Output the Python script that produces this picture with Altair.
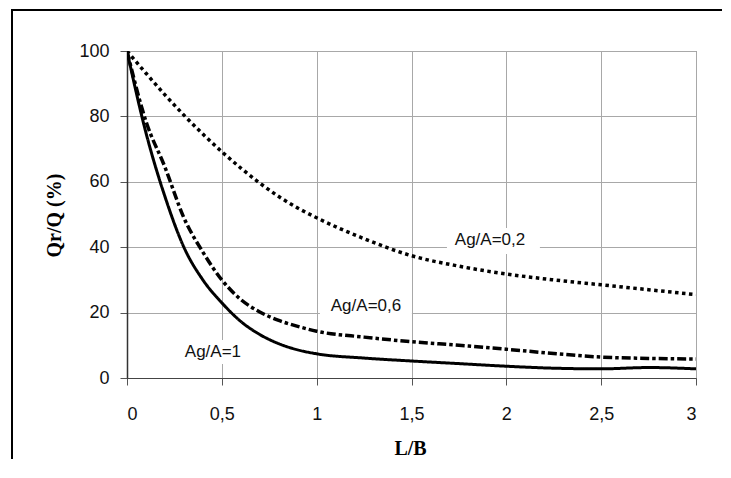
import altair as alt
import pandas as pd

# ---- data ----
x_vals = [0, 0.1, 0.2, 0.3, 0.4, 0.5, 0.6, 0.7, 0.8, 0.9, 1.0, 1.25, 1.5, 1.75, 2.0, 2.25, 2.5, 2.75, 3.0]
y_ag02 = [100, 93.2, 86.6, 80.4, 74.6, 69.2, 64.2, 59.6, 55.5, 52, 49, 42.6, 37.4, 34.2, 31.8, 30, 28.5, 27, 25.5]
y_ag06 = [100, 78.5, 64.5, 49, 38.5, 30, 24, 20.2, 17.6, 15.8, 14.3, 12.5, 11.1, 10, 8.8, 7.5, 6.4, 6, 5.8]
y_ag1 = [100, 75, 55.5, 40, 30, 23, 17.3, 13.3, 10.5, 8.6, 7.4, 6.1, 5.2, 4.4, 3.6, 3.0, 2.8, 3.2, 2.8]

series_names = ["Ag/A=0,2", "Ag/A=0,6", "Ag/A=1"]

label_text = ["Ag/A=0,2", "Ag/A=0,6", "Ag/A=1"]
label_x = [1.914, 1.26, 0.453]
label_y = [42.2, 22.0, 7.95]
box_x1 = [1.687, 1.017, 0.28]
box_x2 = [2.177, 1.502, 0.62]
box_y1 = [37.9, 18.3, 4.3]
box_y2 = [45.9, 25.7, 11.6]

x_ticks = [0, 0.5, 1, 1.5, 2, 2.5, 3]
y_ticks = [0, 20, 40, 60, 80, 100]

rows = []
for name, ys in zip(series_names, [y_ag02, y_ag06, y_ag1]):
    for x, y in zip(x_vals, ys):
        rows.append({"series": name, "x": x, "y": y})
df = pd.DataFrame(rows)

labels_df = pd.DataFrame({
    "text": label_text, "x": label_x, "y": label_y,
    "x1": box_x1, "x2": box_x2, "y1": box_y1, "y2": box_y2,
})

W, H = 569, 327
PAD = {"left": 119, "top": 43, "right": 27, "bottom": 82}

xscale = alt.Scale(domain=[0, 3], nice=False, zero=False)
yscale = alt.Scale(domain=[0, 100], nice=False)

xaxis = alt.Axis(
    values=x_ticks, format="~g", labelExpr="replace(datum.label, '.', ',')",
    title="L/B", titleFont="Liberation Serif", titleFontWeight="bold", titleFontSize=20,
    titleColor="black", titleX=283, titleY=70, titleBaseline="middle", titleAlign="center",
    labelFont="Liberation Sans", labelFontSize=18, labelColor="#111", labelPadding=20,
    tickSize=7, tickColor="#555", domainColor="#444",
    grid=True, gridColor="#a8a8a8", gridWidth=1,
)
yaxis = alt.Axis(
    values=y_ticks,
    title="Qr/Q (%)", titleFont="Liberation Serif", titleFontWeight="bold", titleFontSize=20,
    titleColor="black", titleX=-73, titleY=164, titleAngle=270, titleBaseline="middle",
    titleAlign="center",
    labelFont="Liberation Sans", labelFontSize=18, labelColor="#111", labelPadding=11,
    tickSize=7, tickColor="#555", domainColor="#333", domainWidth=1.5,
    grid=True, gridColor="#a8a8a8", gridWidth=1,
)

base = alt.Chart(df)

boxes = alt.Chart(labels_df).mark_rect(color="white").encode(
    x=alt.X("x1:Q", scale=xscale, axis=xaxis), x2="x2:Q",
    y=alt.Y("y1:Q", scale=yscale, axis=yaxis), y2="y2:Q",
)

def curve(name, dash, width):
    return base.transform_filter(alt.datum.series == name).mark_line(
        color="black", strokeWidth=width, strokeDash=dash, strokeCap="butt",
        interpolate="monotone", clip=True,
    ).encode(
        x=alt.X("x:Q", scale=xscale),
        y=alt.Y("y:Q", scale=yscale),
        order="x:Q",
    )

line02 = curve("Ag/A=0,2", [3.5, 3.5], 3.5)
line06 = curve("Ag/A=0,6", [9, 3, 3.5, 3], 3.5)
line1 = curve("Ag/A=1", [1, 0], 3)

texts = alt.Chart(labels_df).mark_text(
    font="Liberation Sans", fontSize=17, color="#111", align="center", baseline="middle"
).encode(
    x=alt.X("x:Q", scale=xscale), y=alt.Y("y:Q", scale=yscale), text="text:N"
)

# outer frame of the scanned page (top and left edges) as thin filled bars inside the SVG
right_edge = W + PAD["right"] - 1
bottom_edge = H + PAD["bottom"] - 1
frame_top = alt.Chart(alt.Data(values=[{"k": "top"}])).mark_rect(color="black").encode(
    x=alt.value(-116), x2=alt.value(right_edge), y=alt.value(-42), y2=alt.value(-40)
)
frame_left = alt.Chart(alt.Data(values=[{"k": "left"}])).mark_rect(color="black").encode(
    x=alt.value(-116), x2=alt.value(-114), y=alt.value(-42), y2=alt.value(bottom_edge)
)

chart = alt.layer(boxes, line02, line06, line1, texts, frame_top, frame_left).properties(
    width=W, height=H,
    autosize=alt.AutoSizeParams(type="none"),
    padding=PAD,
    background="white",
).configure_view(stroke="#666", strokeWidth=1)

chart.save("out.html", embed_options={"renderer": "svg", "actions": False})
